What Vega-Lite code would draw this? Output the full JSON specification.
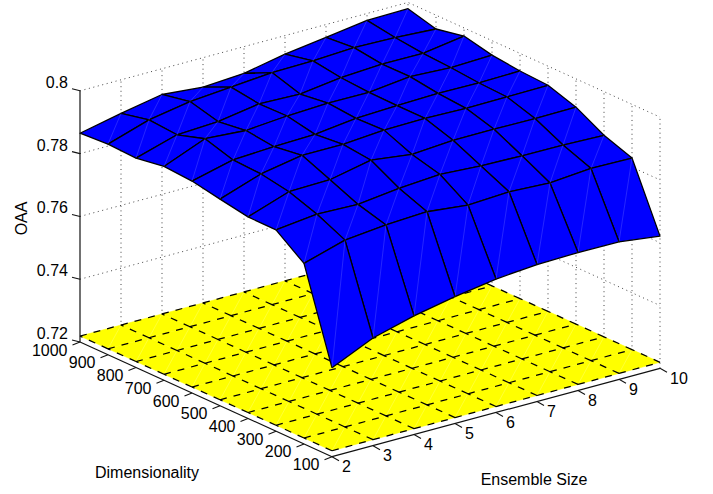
{
"$schema":"https://vega.github.io/schema/vega-lite/v6.json",
"width":713,"height":494,"padding":0,
"autosize":{"type":"fit","contains":"padding"},
"background":"white",
"config":{"view":{"stroke":null},"text":{"font":"Liberation Sans","fontSize":16,"color":"#000"}},
"datasets":{
"grid":[
{"ensemble":10,"dim":1000,"oaa":0.7980},{"ensemble":10,"dim":900,"oaa":0.7956},{"ensemble":10,"dim":800,"oaa":0.7974},{"ensemble":10,"dim":700,"oaa":0.7954},{"ensemble":10,"dim":600,"oaa":0.7944},{"ensemble":10,"dim":500,"oaa":0.7939},{"ensemble":10,"dim":400,"oaa":0.7910},{"ensemble":10,"dim":300,"oaa":0.7861},{"ensemble":10,"dim":200,"oaa":0.7829},{"ensemble":10,"dim":100,"oaa":0.7621},
{"ensemble":9,"dim":1000,"oaa":0.7978},{"ensemble":9,"dim":900,"oaa":0.7964},{"ensemble":9,"dim":800,"oaa":0.7954},{"ensemble":9,"dim":700,"oaa":0.7949},{"ensemble":9,"dim":600,"oaa":0.7941},{"ensemble":9,"dim":500,"oaa":0.7937},{"ensemble":9,"dim":400,"oaa":0.7909},{"ensemble":9,"dim":300,"oaa":0.7865},{"ensemble":9,"dim":200,"oaa":0.7831},{"ensemble":9,"dim":100,"oaa":0.7638},
{"ensemble":8,"dim":1000,"oaa":0.7959},{"ensemble":8,"dim":900,"oaa":0.7967},{"ensemble":8,"dim":800,"oaa":0.7955},{"ensemble":8,"dim":700,"oaa":0.7956},{"ensemble":8,"dim":600,"oaa":0.7943},{"ensemble":8,"dim":500,"oaa":0.7936},{"ensemble":8,"dim":400,"oaa":0.7910},{"ensemble":8,"dim":300,"oaa":0.7866},{"ensemble":8,"dim":200,"oaa":0.7820},{"ensemble":8,"dim":100,"oaa":0.7639},
{"ensemble":7,"dim":1000,"oaa":0.7941},{"ensemble":7,"dim":900,"oaa":0.7960},{"ensemble":7,"dim":800,"oaa":0.7947},{"ensemble":7,"dim":700,"oaa":0.7941},{"ensemble":7,"dim":600,"oaa":0.7939},{"ensemble":7,"dim":500,"oaa":0.7939},{"ensemble":7,"dim":400,"oaa":0.7910},{"ensemble":7,"dim":300,"oaa":0.7869},{"ensemble":7,"dim":200,"oaa":0.7827},{"ensemble":7,"dim":100,"oaa":0.7636},
{"ensemble":6,"dim":1000,"oaa":0.7915},{"ensemble":6,"dim":900,"oaa":0.7958},{"ensemble":6,"dim":800,"oaa":0.7930},{"ensemble":6,"dim":700,"oaa":0.7942},{"ensemble":6,"dim":600,"oaa":0.7934},{"ensemble":6,"dim":500,"oaa":0.7937},{"ensemble":6,"dim":400,"oaa":0.7900},{"ensemble":6,"dim":300,"oaa":0.7877},{"ensemble":6,"dim":200,"oaa":0.7820},{"ensemble":6,"dim":100,"oaa":0.7625},
{"ensemble":5,"dim":1000,"oaa":0.7906},{"ensemble":5,"dim":900,"oaa":0.7947},{"ensemble":5,"dim":800,"oaa":0.7934},{"ensemble":5,"dim":700,"oaa":0.7936},{"ensemble":5,"dim":600,"oaa":0.7918},{"ensemble":5,"dim":500,"oaa":0.7927},{"ensemble":5,"dim":400,"oaa":0.7917},{"ensemble":5,"dim":300,"oaa":0.7868},{"ensemble":5,"dim":200,"oaa":0.7834},{"ensemble":5,"dim":100,"oaa":0.7604},
{"ensemble":4,"dim":1000,"oaa":0.7918},{"ensemble":4,"dim":900,"oaa":0.7936},{"ensemble":4,"dim":800,"oaa":0.7913},{"ensemble":4,"dim":700,"oaa":0.7925},{"ensemble":4,"dim":600,"oaa":0.7914},{"ensemble":4,"dim":500,"oaa":0.7927},{"ensemble":4,"dim":400,"oaa":0.7890},{"ensemble":4,"dim":300,"oaa":0.7852},{"ensemble":4,"dim":200,"oaa":0.7827},{"ensemble":4,"dim":100,"oaa":0.7578},
{"ensemble":3,"dim":1000,"oaa":0.7893},{"ensemble":3,"dim":900,"oaa":0.7913},{"ensemble":3,"dim":800,"oaa":0.7906},{"ensemble":3,"dim":700,"oaa":0.7934},{"ensemble":3,"dim":600,"oaa":0.7907},{"ensemble":3,"dim":500,"oaa":0.7903},{"ensemble":3,"dim":400,"oaa":0.7887},{"ensemble":3,"dim":300,"oaa":0.7856},{"ensemble":3,"dim":200,"oaa":0.7814},{"ensemble":3,"dim":100,"oaa":0.7543},
{"ensemble":2,"dim":1000,"oaa":0.7865},{"ensemble":2,"dim":900,"oaa":0.7871},{"ensemble":2,"dim":800,"oaa":0.7867},{"ensemble":2,"dim":700,"oaa":0.7881},{"ensemble":2,"dim":600,"oaa":0.7875},{"ensemble":2,"dim":500,"oaa":0.7858},{"ensemble":2,"dim":400,"oaa":0.7842},{"ensemble":2,"dim":300,"oaa":0.7841},{"ensemble":2,"dim":200,"oaa":0.7775},{"ensemble":2,"dim":100,"oaa":0.7483}
],
"box":[
{"g":"e3","o":0,"ensemble":3,"dim":1000,"oaa":0.72},{"g":"e3","o":1,"ensemble":3,"dim":1000,"oaa":0.8},
{"g":"e4","o":0,"ensemble":4,"dim":1000,"oaa":0.72},{"g":"e4","o":1,"ensemble":4,"dim":1000,"oaa":0.8},
{"g":"e5","o":0,"ensemble":5,"dim":1000,"oaa":0.72},{"g":"e5","o":1,"ensemble":5,"dim":1000,"oaa":0.8},
{"g":"e6","o":0,"ensemble":6,"dim":1000,"oaa":0.72},{"g":"e6","o":1,"ensemble":6,"dim":1000,"oaa":0.8},
{"g":"e7","o":0,"ensemble":7,"dim":1000,"oaa":0.72},{"g":"e7","o":1,"ensemble":7,"dim":1000,"oaa":0.8},
{"g":"e8","o":0,"ensemble":8,"dim":1000,"oaa":0.72},{"g":"e8","o":1,"ensemble":8,"dim":1000,"oaa":0.8},
{"g":"e9","o":0,"ensemble":9,"dim":1000,"oaa":0.72},{"g":"e9","o":1,"ensemble":9,"dim":1000,"oaa":0.8},
{"g":"e10","o":0,"ensemble":10,"dim":1000,"oaa":0.72},{"g":"e10","o":1,"ensemble":10,"dim":1000,"oaa":0.8},
{"g":"d900","o":0,"ensemble":10,"dim":900,"oaa":0.72},{"g":"d900","o":1,"ensemble":10,"dim":900,"oaa":0.8},
{"g":"d800","o":0,"ensemble":10,"dim":800,"oaa":0.72},{"g":"d800","o":1,"ensemble":10,"dim":800,"oaa":0.8},
{"g":"d700","o":0,"ensemble":10,"dim":700,"oaa":0.72},{"g":"d700","o":1,"ensemble":10,"dim":700,"oaa":0.8},
{"g":"d600","o":0,"ensemble":10,"dim":600,"oaa":0.72},{"g":"d600","o":1,"ensemble":10,"dim":600,"oaa":0.8},
{"g":"d500","o":0,"ensemble":10,"dim":500,"oaa":0.72},{"g":"d500","o":1,"ensemble":10,"dim":500,"oaa":0.8},
{"g":"d400","o":0,"ensemble":10,"dim":400,"oaa":0.72},{"g":"d400","o":1,"ensemble":10,"dim":400,"oaa":0.8},
{"g":"d300","o":0,"ensemble":10,"dim":300,"oaa":0.72},{"g":"d300","o":1,"ensemble":10,"dim":300,"oaa":0.8},
{"g":"d200","o":0,"ensemble":10,"dim":200,"oaa":0.72},{"g":"d200","o":1,"ensemble":10,"dim":200,"oaa":0.8},
{"g":"d100","o":0,"ensemble":10,"dim":100,"oaa":0.72},{"g":"d100","o":1,"ensemble":10,"dim":100,"oaa":0.8},
{"g":"z74","o":0,"ensemble":2,"dim":1000,"oaa":0.74},{"g":"z74","o":1,"ensemble":10,"dim":1000,"oaa":0.74},{"g":"z74","o":2,"ensemble":10,"dim":100,"oaa":0.74},
{"g":"z76","o":0,"ensemble":2,"dim":1000,"oaa":0.76},{"g":"z76","o":1,"ensemble":10,"dim":1000,"oaa":0.76},{"g":"z76","o":2,"ensemble":10,"dim":100,"oaa":0.76},
{"g":"z78","o":0,"ensemble":2,"dim":1000,"oaa":0.78},{"g":"z78","o":1,"ensemble":10,"dim":1000,"oaa":0.78},{"g":"z78","o":2,"ensemble":10,"dim":100,"oaa":0.78},
{"g":"z80","o":0,"ensemble":2,"dim":1000,"oaa":0.8},{"g":"z80","o":1,"ensemble":10,"dim":1000,"oaa":0.8},{"g":"z80","o":2,"ensemble":10,"dim":100,"oaa":0.8}
],
"axes":[
{"g":"z","o":0,"ensemble":2,"dim":1000,"oaa":0.72},{"g":"z","o":1,"ensemble":2,"dim":1000,"oaa":0.8},
{"g":"d","o":0,"ensemble":2,"dim":1000,"oaa":0.72},{"g":"d","o":1,"ensemble":2,"dim":100,"oaa":0.72},
{"g":"e","o":0,"ensemble":2,"dim":100,"oaa":0.72},{"g":"e","o":1,"ensemble":10,"dim":100,"oaa":0.72}
],
"zticks":[
{"label":"0.72","ensemble":2,"dim":1000,"oaa":0.72},{"label":"0.74","ensemble":2,"dim":1000,"oaa":0.74},{"label":"0.76","ensemble":2,"dim":1000,"oaa":0.76},{"label":"0.78","ensemble":2,"dim":1000,"oaa":0.78},{"label":"0.8","ensemble":2,"dim":1000,"oaa":0.8}
],
"dticks":[
{"label":"100","ensemble":2,"dim":100,"oaa":0.72},{"label":"200","ensemble":2,"dim":200,"oaa":0.72},{"label":"300","ensemble":2,"dim":300,"oaa":0.72},{"label":"400","ensemble":2,"dim":400,"oaa":0.72},{"label":"500","ensemble":2,"dim":500,"oaa":0.72},{"label":"600","ensemble":2,"dim":600,"oaa":0.72},{"label":"700","ensemble":2,"dim":700,"oaa":0.72},{"label":"800","ensemble":2,"dim":800,"oaa":0.72},{"label":"900","ensemble":2,"dim":900,"oaa":0.72},{"label":"1000","ensemble":2,"dim":1000,"oaa":0.72}
],
"eticks":[
{"label":"2","ensemble":2,"dim":100,"oaa":0.72},{"label":"3","ensemble":3,"dim":100,"oaa":0.72},{"label":"4","ensemble":4,"dim":100,"oaa":0.72},{"label":"5","ensemble":5,"dim":100,"oaa":0.72},{"label":"6","ensemble":6,"dim":100,"oaa":0.72},{"label":"7","ensemble":7,"dim":100,"oaa":0.72},{"label":"8","ensemble":8,"dim":100,"oaa":0.72},{"label":"9","ensemble":9,"dim":100,"oaa":0.72},{"label":"10","ensemble":10,"dim":100,"oaa":0.72}
]
},
"encoding":{
"x":{"field":"sx","type":"quantitative","axis":null,"scale":{"domain":[0,713],"range":[0,713],"nice":false,"zero":false}},
"y":{"field":"sy","type":"quantitative","axis":null,"scale":{"domain":[0,494],"range":[0,494],"nice":false,"zero":false}}
},
"layer":[
{"data":{"name":"box"},
"transform":[{"calculate":"332+41*(datum.ensemble-2)-28*(datum.dim-100)/100","as":"sx"},{"calculate":"451.7-11.05*(datum.ensemble-2)-12.74*(datum.dim-100)/100-3140*(datum.oaa-0.72)","as":"sy"}],
"mark":{"type":"line","stroke":"#444","strokeWidth":1,"strokeDash":[1,3.6]},
"encoding":{"detail":{"field":"g"},"order":{"field":"o","type":"quantitative"}}},
{"data":{"name":"grid"},
"transform":[{"calculate":"[0,1,2,3,4]","as":"corner"},{"flatten":["corner"]},
{"calculate":"datum.ensemble-((datum.corner==1||datum.corner==2)?1:0)","as":"qe"},
{"calculate":"datum.dim-((datum.corner==2||datum.corner==3)?100:0)","as":"qd"},
{"filter":"datum.qe>=2&&datum.qe<=9&&datum.qd>=100&&datum.qd<=900"},
{"calculate":"datum.qe*10000+datum.qd","as":"quad"},
{"calculate":"332+41*(datum.ensemble-2)-28*(datum.dim-100)/100","as":"sx"},{"calculate":"451.7-11.05*(datum.ensemble-2)-12.74*(datum.dim-100)/100-3140*(0.7219-0.72)","as":"sy"}],
"mark":{"type":"line","fill":"#ffff00","stroke":"#ffff00","strokeWidth":0.5},
"encoding":{"detail":{"field":"quad"},"order":{"field":"corner","type":"quantitative"}}},
{"data":{"name":"grid"},
"transform":[{"calculate":"[0,1,2,3,4]","as":"corner"},{"flatten":["corner"]},
{"filter":"datum.corner==0||datum.corner==2"},
{"calculate":"datum.ensemble-((datum.corner==1||datum.corner==2)?1:0)","as":"qe"},
{"calculate":"datum.dim-((datum.corner==2||datum.corner==3)?100:0)","as":"qd"},
{"filter":"datum.qe>=2&&datum.qe<=9&&datum.qd>=100&&datum.qd<=900"},
{"calculate":"datum.qe*10000+datum.qd","as":"quad"},
{"calculate":"332+41*(datum.ensemble-2)-28*(datum.dim-100)/100","as":"sx"},{"calculate":"451.7-11.05*(datum.ensemble-2)-12.74*(datum.dim-100)/100-3140*(0.7219-0.72)","as":"sy"}],
"mark":{"type":"line","stroke":"#ffffff","strokeWidth":0.6,"opacity":0.35},
"encoding":{"detail":{"field":"quad"},"order":{"field":"corner","type":"quantitative"}}},
{"data":{"name":"grid"},
"transform":[{"calculate":"[0,1,2,3]","as":"part"},{"flatten":["part"]},
{"calculate":"datum.part==1?datum.ensemble-1:datum.ensemble","as":"oe"},
{"calculate":"datum.part==3?datum.dim-100:datum.dim","as":"od"},
{"filter":"datum.oe>=2&&datum.od>=100&&(datum.part<2?datum.oe<=9:datum.od<=900)"},
{"calculate":"(datum.part<2?'e':'d')+datum.oe+'_'+datum.od","as":"edge"},
{"calculate":"332+41*(datum.ensemble-2)-28*(datum.dim-100)/100","as":"sx"},{"calculate":"451.7-11.05*(datum.ensemble-2)-12.74*(datum.dim-100)/100-3140*(0.7219-0.72)","as":"sy"}],
"mark":{"type":"line","stroke":"#000","strokeWidth":1.25,"strokeDash":[7,7]},
"encoding":{"detail":{"field":"edge"},"order":{"field":"part","type":"quantitative"}}},
{"data":{"name":"grid"},
"transform":[{"calculate":"[0,1,2,3,4]","as":"corner"},{"flatten":["corner"]},
{"calculate":"datum.ensemble-((datum.corner==1||datum.corner==2)?1:0)","as":"qe"},
{"calculate":"datum.dim-((datum.corner==2||datum.corner==3)?100:0)","as":"qd"},
{"filter":"datum.qe>=2&&datum.qe<=9&&datum.qd>=100&&datum.qd<=900"},
{"calculate":"datum.qe*10000+datum.qd","as":"quad"},
{"calculate":"332+41*(datum.ensemble-2)-28*(datum.dim-100)/100","as":"sx"},{"calculate":"451.7-11.05*(datum.ensemble-2)-12.74*(datum.dim-100)/100-3140*(datum.oaa-0.72)","as":"sy"}],
"mark":{"type":"line","fill":"#0000ff","stroke":"#000","strokeWidth":1.3,"strokeJoin":"round"},
"encoding":{"detail":{"field":"quad"},"order":{"field":"corner","type":"quantitative"}}},
{"data":{"name":"grid"},
"transform":[{"calculate":"[0,1,2,3,4]","as":"corner"},{"flatten":["corner"]},
{"filter":"datum.corner==0||datum.corner==2"},
{"calculate":"datum.ensemble-((datum.corner==1||datum.corner==2)?1:0)","as":"qe"},
{"calculate":"datum.dim-((datum.corner==2||datum.corner==3)?100:0)","as":"qd"},
{"filter":"datum.qe>=2&&datum.qe<=9&&datum.qd>=100&&datum.qd<=900"},
{"calculate":"datum.qe*10000+datum.qd","as":"quad"},
{"calculate":"332+41*(datum.ensemble-2)-28*(datum.dim-100)/100","as":"sx"},{"calculate":"451.7-11.05*(datum.ensemble-2)-12.74*(datum.dim-100)/100-3140*(datum.oaa-0.72)","as":"sy"}],
"mark":{"type":"line","stroke":"#ffffff","strokeWidth":0.6,"opacity":0.25},
"encoding":{"detail":{"field":"quad"},"order":{"field":"corner","type":"quantitative"}}},
{"data":{"name":"axes"},
"transform":[{"calculate":"332+41*(datum.ensemble-2)-28*(datum.dim-100)/100","as":"sx"},{"calculate":"451.7-11.05*(datum.ensemble-2)-12.74*(datum.dim-100)/100-3140*(datum.oaa-0.72)","as":"sy"}],
"mark":{"type":"line","stroke":"#111","strokeWidth":1.2},
"encoding":{"detail":{"field":"g"},"order":{"field":"o","type":"quantitative"}}},
{"data":{"name":"zticks"},
"transform":[{"calculate":"332+41*(datum.ensemble-2)-28*(datum.dim-100)/100","as":"sx"},{"calculate":"451.7-11.05*(datum.ensemble-2)-12.74*(datum.dim-100)/100-3140*(datum.oaa-0.72)","as":"sy"},{"calculate":"datum.sx-8","as":"sx2"},{"calculate":"datum.sy-2","as":"sy2"}],
"mark":{"type":"rule","stroke":"#111","strokeWidth":1.1},
"encoding":{"x2":{"field":"sx2"},"y2":{"field":"sy2"}}},
{"data":{"name":"dticks"},
"transform":[{"calculate":"332+41*(datum.ensemble-2)-28*(datum.dim-100)/100","as":"sx"},{"calculate":"451.7-11.05*(datum.ensemble-2)-12.74*(datum.dim-100)/100-3140*(datum.oaa-0.72)","as":"sy"},{"calculate":"datum.sx-7.5","as":"sx2"},{"calculate":"datum.sy+3","as":"sy2"}],
"mark":{"type":"rule","stroke":"#111","strokeWidth":1.1},
"encoding":{"x2":{"field":"sx2"},"y2":{"field":"sy2"}}},
{"data":{"name":"eticks"},
"transform":[{"calculate":"332+41*(datum.ensemble-2)-28*(datum.dim-100)/100","as":"sx"},{"calculate":"451.7-11.05*(datum.ensemble-2)-12.74*(datum.dim-100)/100-3140*(datum.oaa-0.72)","as":"sy"},{"calculate":"datum.sx+7","as":"sx2"},{"calculate":"datum.sy+4","as":"sy2"}],
"mark":{"type":"rule","stroke":"#111","strokeWidth":1.1},
"encoding":{"x2":{"field":"sx2"},"y2":{"field":"sy2"}}},
{"data":{"name":"zticks"},
"transform":[{"calculate":"332+41*(datum.ensemble-2)-28*(datum.dim-100)/100","as":"sx"},{"calculate":"451.7-11.05*(datum.ensemble-2)-12.74*(datum.dim-100)/100-3140*(datum.oaa-0.72)","as":"sy"}],
"mark":{"type":"text","align":"right","baseline":"middle","dx":-12,"dy":-8},
"encoding":{"text":{"field":"label"}}},
{"data":{"name":"dticks"},
"transform":[{"calculate":"332+41*(datum.ensemble-2)-28*(datum.dim-100)/100","as":"sx"},{"calculate":"451.7-11.05*(datum.ensemble-2)-12.74*(datum.dim-100)/100-3140*(datum.oaa-0.72)","as":"sy"}],
"mark":{"type":"text","align":"right","baseline":"middle","dx":-12.5,"dy":8.5},
"encoding":{"text":{"field":"label"}}},
{"data":{"name":"eticks"},
"transform":[{"calculate":"332+41*(datum.ensemble-2)-28*(datum.dim-100)/100","as":"sx"},{"calculate":"451.7-11.05*(datum.ensemble-2)-12.74*(datum.dim-100)/100-3140*(datum.oaa-0.72)","as":"sy"}],
"mark":{"type":"text","align":"left","baseline":"middle","dx":10,"dy":10.5},
"encoding":{"text":{"field":"label"}}},
{"data":{"values":[{"label":"OAA","ensemble":2,"dim":1000,"oaa":0.76}]},
"transform":[{"calculate":"332+41*(datum.ensemble-2)-28*(datum.dim-100)/100","as":"sx"},{"calculate":"451.7-11.05*(datum.ensemble-2)-12.74*(datum.dim-100)/100-3140*(datum.oaa-0.72)","as":"sy"}],
"mark":{"type":"text","align":"center","baseline":"middle","angle":270,"dx":-2,"dy":-58},
"encoding":{"text":{"field":"label"}}},
{"data":{"values":[{"label":"Dimensionality","ensemble":2,"dim":550,"oaa":0.72}]},
"transform":[{"calculate":"332+41*(datum.ensemble-2)-28*(datum.dim-100)/100","as":"sx"},{"calculate":"451.7-11.05*(datum.ensemble-2)-12.74*(datum.dim-100)/100-3140*(datum.oaa-0.72)","as":"sy"}],
"mark":{"type":"text","align":"center","baseline":"middle","dx":-59,"dy":73.5},
"encoding":{"text":{"field":"label"}}},
{"data":{"values":[{"label":"Ensemble Size","ensemble":6,"dim":100,"oaa":0.72}]},
"transform":[{"calculate":"332+41*(datum.ensemble-2)-28*(datum.dim-100)/100","as":"sx"},{"calculate":"451.7-11.05*(datum.ensemble-2)-12.74*(datum.dim-100)/100-3140*(datum.oaa-0.72)","as":"sy"}],
"mark":{"type":"text","align":"center","baseline":"middle","dx":38,"dy":67},
"encoding":{"text":{"field":"label"}}}
]
}
